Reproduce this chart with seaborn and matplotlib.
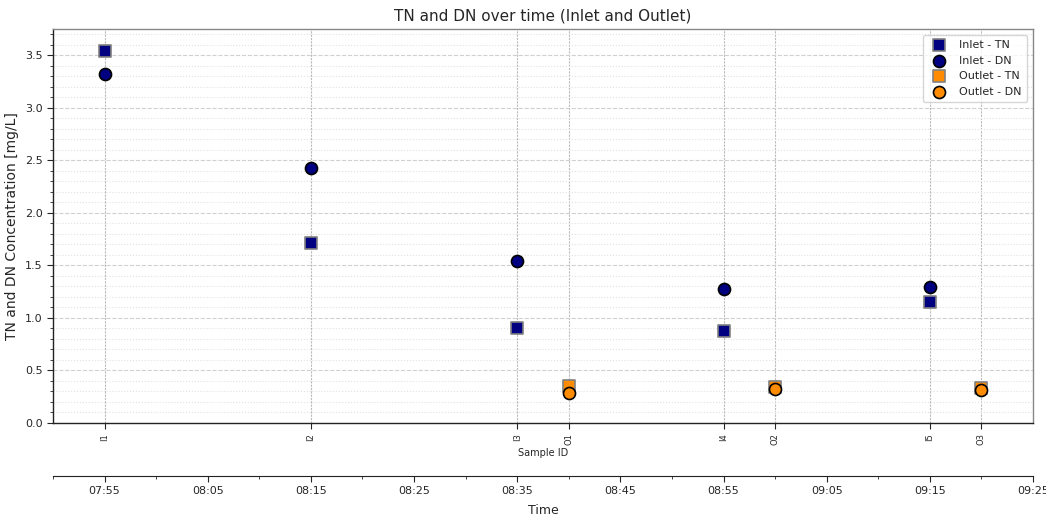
import matplotlib
matplotlib.use("Agg")
import matplotlib.pyplot as plt
import matplotlib.dates as mdates
from matplotlib.ticker import MultipleLocator
import seaborn as sns
import pandas as pd

sns.set_style("white")
plt.rcParams['font.family'] = ['DejaVu Sans']

# Data
inlet_ids = ["I1", "I2", "I3", "I4", "I5"]
inlet_times = ["07:55", "08:15", "08:35", "08:55", "09:15"]
inlet_tn = [3.54, 1.71, 0.90, 0.88, 1.15]
inlet_dn = [3.32, 2.43, 1.54, 1.28, 1.29]

outlet_ids = ["O1", "O2", "O3"]
outlet_times = ["08:40", "09:00", "09:20"]
outlet_tn = [0.35, 0.34, 0.33]
outlet_dn = [0.29, 0.32, 0.31]

day = "2024-01-01 "
inlet = pd.DataFrame({"id": inlet_ids, "time": pd.to_datetime([day + t for t in inlet_times]),
                      "TN": inlet_tn, "DN": inlet_dn})
outlet = pd.DataFrame({"id": outlet_ids, "time": pd.to_datetime([day + t for t in outlet_times]),
                       "TN": outlet_tn, "DN": outlet_dn})

fig = plt.figure(figsize=(10.46, 5.15), dpi=100)
ax = fig.add_axes([53/1046, 1 - 423/515, (1033 - 53)/1046, (423 - 29)/515])

sns.scatterplot(data=inlet, x="time", y="TN", ax=ax, marker="s", s=70, color="navy",
                edgecolor="gray", linewidth=1.2, label="Inlet - TN", zorder=3)
sns.scatterplot(data=inlet, x="time", y="DN", ax=ax, marker="o", s=75, color="navy",
                edgecolor="black", linewidth=1.2, label="Inlet - DN", zorder=3)
sns.scatterplot(data=outlet, x="time", y="TN", ax=ax, marker="s", s=70, color="darkorange",
                edgecolor="gray", linewidth=1.2, label="Outlet - TN", zorder=3)
sns.scatterplot(data=outlet, x="time", y="DN", ax=ax, marker="o", s=75, color="darkorange",
                edgecolor="black", linewidth=1.2, label="Outlet - DN", zorder=3)

xmin = pd.Timestamp(day + "07:50")
xmax = pd.Timestamp(day + "09:25")
ax.set_xlim(xmin, xmax)
ax.set_ylim(0, 3.75)

all_df = pd.concat([inlet, outlet]).sort_values("time")
ax.set_xticks(list(all_df["time"]))
ax.set_xticklabels(list(all_df["id"]), rotation=90, fontsize=6)
ax.set_xlabel("Sample ID", fontsize=7, labelpad=2)
ax.set_ylabel("TN and DN Concentration [mg/L]", fontsize=10)
ax.set_title("TN and DN over time (Inlet and Outlet)", fontsize=11)

ax.yaxis.set_major_locator(MultipleLocator(0.5))
ax.yaxis.set_minor_locator(MultipleLocator(0.1))
ax.tick_params(axis="y", which="major", labelsize=8, length=4, left=True)
ax.tick_params(axis="y", which="minor", length=2, left=True)
ax.tick_params(axis="x", which="major", length=4, bottom=True)

ax.grid(axis="x", which="major", color="#bbbbbb", linestyle=(0, (2, 1)), linewidth=0.8)
ax.grid(axis="y", which="major", color="#d0d0d0", linestyle="--", linewidth=0.8)
ax.grid(axis="y", which="minor", color="#e2e2e2", linestyle=":", linewidth=0.8)
ax.set_axisbelow(True)

for s in ["left", "bottom"]:
    ax.spines[s].set_color("#222222")
    ax.spines[s].set_linewidth(1.0)
for s in ["top", "right"]:
    ax.spines[s].set_color("#888888")
    ax.spines[s].set_linewidth(1.0)

leg = ax.legend(loc="upper right", fontsize=8, frameon=True, borderpad=0.5, handletextpad=0.8)
leg.get_frame().set_edgecolor("#cccccc")

# Secondary time axis
ax2 = ax.twiny()
ax2.set_xlim(ax.get_xlim())
ax2.xaxis.set_ticks_position("bottom")
ax2.xaxis.set_label_position("bottom")
ax2.spines["bottom"].set_position(("outward", 38))
for s in ["top", "right", "left"]:
    ax2.spines[s].set_visible(False)
ax2.spines["bottom"].set_color("#222222")
ax2.xaxis.set_major_locator(mdates.MinuteLocator(byminute=[5, 15, 25, 35, 45, 55]))
ax2.xaxis.set_minor_locator(mdates.MinuteLocator(byminute=[0, 10, 20, 30, 40, 50]))
ax2.xaxis.set_major_formatter(mdates.DateFormatter("%H:%M"))
ax2.tick_params(axis="x", which="major", labelsize=8, length=4, pad=3, bottom=True, top=False)
ax2.tick_params(axis="x", which="minor", length=2.5, bottom=True, top=False)
ax2.set_xlabel("Time", fontsize=9, labelpad=6)
ax2.grid(False)

fig.savefig("out.png", dpi=100)
